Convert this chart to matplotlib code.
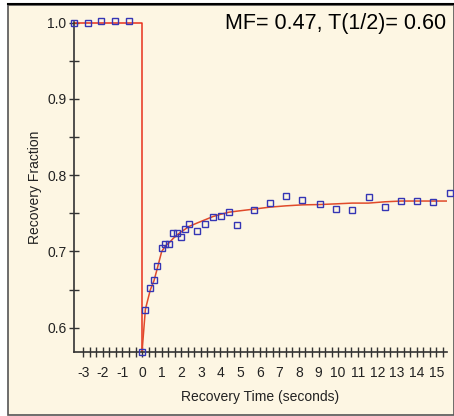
import matplotlib
matplotlib.use('Agg')
import matplotlib.pyplot as plt
from matplotlib.patches import Rectangle
import numpy as np

plt.rcParams['font.family'] = ['Liberation Sans', 'DejaVu Sans']
plt.rcParams['axes.unicode_minus'] = False

# pre-bleach points
pre_t = [-3.45, -2.76, -2.07, -1.38, -0.69]
pre_y = [1.000, 1.000, 1.002, 1.002, 1.002]

# post-bleach points
post_t = [0.0, 0.17, 0.42, 0.61, 0.78, 1.00, 1.19, 1.39, 1.60, 1.79, 1.97, 2.19, 2.38,
          2.79, 3.20, 3.62, 4.03, 4.44, 4.86,
          5.70, 6.51, 7.33, 8.18, 9.05, 9.88, 10.71, 11.55, 12.38, 13.21, 14.03, 14.85, 15.68]
post_y = [0.5685, 0.6236, 0.6525, 0.663, 0.681, 0.704, 0.710, 0.710, 0.724, 0.724, 0.7195, 0.730, 0.736,
          0.727, 0.736, 0.745, 0.7466, 0.7514, 0.7348,
          0.7545, 0.7632, 0.7728, 0.768, 0.762, 0.7558, 0.754, 0.771, 0.7588, 0.766, 0.766, 0.7645, 0.777]

# fitted curve, read at the sample times
fit_y = [0.5685, 0.624, 0.6495, 0.6617, 0.678, 0.6997, 0.7072, 0.7115, 0.7173, 0.7217, 0.7252, 0.729, 0.7325,
         0.737, 0.7413, 0.7457, 0.7488, 0.7514, 0.7528,
         0.7554, 0.758, 0.7597, 0.761, 0.7614, 0.7623, 0.7633, 0.7633, 0.765, 0.766, 0.766, 0.766, 0.766]

label_text = 'MF= 0.47, T(1/2)= 0.60'
bg = '#FDF6E3'
dark = '#333333'

fig = plt.figure(figsize=(4.54, 4.16), dpi=100)
fig.patch.set_facecolor('white')
frame = Rectangle((8/454, 1.5/416), 1 - 8/454, 1 - 6/416, transform=fig.transFigure,
                  facecolor=bg, edgecolor='#555555', linewidth=1.2, zorder=-10)
fig.add_artist(frame)
fig.add_artist(plt.Line2D([8/454, 1], [1 - 4.3/416, 1 - 4.3/416], transform=fig.transFigure,
                          color='black', linewidth=1.5, zorder=-5))

ax = fig.add_axes([74/454, 1 - 351.7/416, (447 - 74)/454, (351.7 - 22)/416])
ax.patch.set_visible(False)

# fit line: plateau, drop, recovery
ax.plot([pre_t[0], 0, 0], [1.0, 1.0, post_y[0]], color='#E8301C', linewidth=1.1, zorder=2)
ax.plot(post_t, fit_y, color='#E04A2A', linewidth=1.1, zorder=2)

ax.plot(pre_t + post_t, pre_y + post_y, linestyle='none', marker='s', markersize=4.4,
        markerfacecolor='none', markeredgecolor='#3535B5', markeredgewidth=1.0,
        clip_on=False, zorder=3)

ax.set_xlim(-3.47, 15.55)
ax.set_ylim(0.5685, 1.0007)

ax.set_xticks(np.arange(-3, 16, 1))
ax.set_xticks(np.arange(-3, 15.6, 1/3), minor=True)
ax.set_yticks([0.6, 0.7, 0.8, 0.9, 1.0])
ax.set_yticks(np.arange(0.6, 1.0, 0.05), minor=True)
ax.set_yticklabels(['0.6', '0.7', '0.8', '0.9', '1.0'])

for s in ['top', 'right']:
    ax.spines[s].set_visible(False)
for s in ['left', 'bottom']:
    ax.spines[s].set_color(dark)
    ax.spines[s].set_linewidth(1.2)

ax.tick_params(which='both', direction='inout', length=7, width=1.0, color=dark,
               labelsize=10, labelcolor='#222222')
ax.tick_params(axis='x', pad=7)
ax.tick_params(axis='y', pad=2)

ax.set_xlabel('Recovery Time (seconds)', fontsize=10, color='#222222', labelpad=7)
ax.set_ylabel('Recovery Fraction', fontsize=10, color='#222222', labelpad=4)

fig.text(446/454, 1 - 23/416, label_text, ha='right', va='center', fontsize=15.5, color='black')

fig.savefig('out.png', dpi=100, facecolor=fig.get_facecolor())
